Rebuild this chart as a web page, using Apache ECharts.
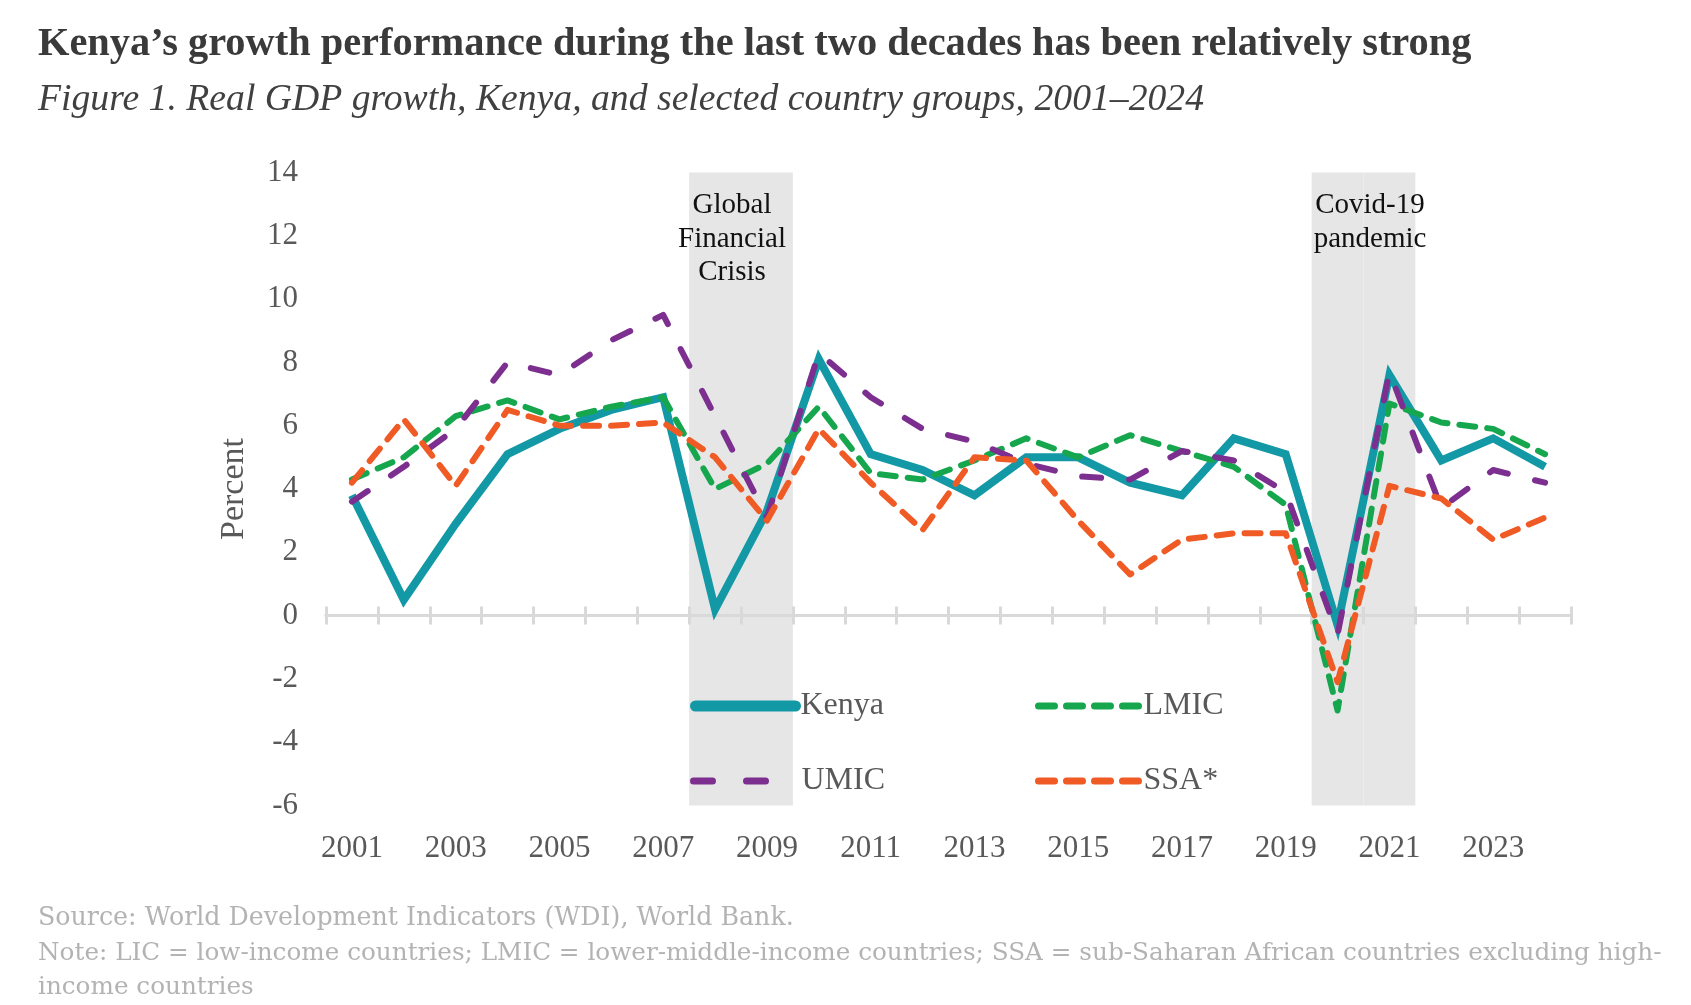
<!DOCTYPE html>
<html>
<head>
<meta charset="utf-8">
<script src="https://cdn.jsdelivr.net/npm/echarts@6/dist/echarts.min.js"></script>
<style>
  html, body { margin: 0; padding: 0; background: #fff; }
  #chart { width: 1691px; height: 1005px; }
</style>
</head>
<body>
<div id="chart"></div>
<script>
var years = ['2001', '2002', '2003', '2004', '2005', '2006', '2007', '2008', '2009', '2010', '2011', '2012',
  '2013', '2014', '2015', '2016', '2017', '2018', '2019', '2020', '2021', '2022', '2023', '2024'];
var kenya = [3.8, 0.5, 2.9, 5.1, 5.9, 6.5, 6.9, 0.2, 3.3, 8.1, 5.1, 4.6, 3.8, 5.0, 5.0, 4.2, 3.8, 5.6, 5.1, -0.3, 7.6, 4.9, 5.6, 4.7];
var lmic = [4.3, 5.0, 6.3, 6.8, 6.2, 6.6, 6.9, 4.0, 4.8, 6.6, 4.5, 4.3, 4.9, 5.6, 5.0, 5.7, 5.2, 4.7, 3.5, -3.0, 6.7, 6.1, 5.9, 5.1];
var umic = [3.6, 4.7, 5.9, 8.0, 7.6, 8.7, 9.5, 6.3, 3.1, 8.3, 6.9, 5.9, 5.5, 4.8, 4.4, 4.3, 5.2, 4.9, 3.9, -0.6, 7.7, 3.4, 4.6, 4.2];
var ssa = [4.2, 6.2, 4.1, 6.5, 6.0, 6.0, 6.1, 5.0, 3.0, 5.9, 4.2, 2.7, 5.0, 4.9, 3.0, 1.3, 2.4, 2.6, 2.6, -2.1, 4.1, 3.7, 2.4, 3.1];
// shaded periods (GFC, Covid-19)
var shadedYears = ['2008', '2009', '2020', '2021'];
var yMin = -6, yMax = 14;

var shadeUp = years.map(function (y) { return shadedYears.indexOf(y) >= 0 ? yMax : null; });
var shadeDown = years.map(function (y) { return shadedYears.indexOf(y) >= 0 ? yMin : null; });

var serif = '"Liberation Serif", "Times New Roman", serif';
var gray = '#595959';
var axisGray = '#d9d9d9';
var shortDash = [16, 12];
var longDash = [19, 28];

var chart = echarts.init(document.getElementById('chart'));
var legendText = { color: gray, fontSize: 32, fontFamily: serif };

function legendItem(name, left, top, width, lineStyle) {
  return {
    data: [name], left: left, top: top, padding: 0,
    itemWidth: width, itemHeight: 14, selectedMode: false,
    textStyle: legendText,
    itemStyle: { opacity: 0, borderWidth: 0 },
    lineStyle: lineStyle
  };
}

// axis line + ticks crossing it, drawn at y = 0
function zeroAxis(position) {
  return {
    type: 'category',
    data: years,
    position: position,
    boundaryGap: true,
    axisLine: { onZero: true, onZeroAxisIndex: 0, lineStyle: { color: axisGray, width: 3 } },
    axisTick: { show: true, interval: 0, length: 9, lineStyle: { color: axisGray, width: 3 } },
    axisLabel: { show: false },
    splitLine: { show: false }
  };
}

var option = {
  animation: false,
  backgroundColor: '#fff',
  grid: { left: 326, right: 120, top: 172.5, bottom: 199.5, outerBoundsMode: 'none' },
  xAxis: [
    {
      type: 'category',
      data: years,
      position: 'bottom',
      boundaryGap: true,
      axisLine: { show: false, onZero: false },
      axisTick: { show: false },
      axisLabel: { interval: 1, margin: 28, color: gray, fontSize: 31, fontFamily: serif },
      splitLine: { show: false }
    },
    zeroAxis('bottom'),
    zeroAxis('top')
  ],
  yAxis: {
    type: 'value',
    min: yMin,
    max: yMax,
    interval: 2,
    axisLine: { show: false },
    axisTick: { show: false },
    splitLine: { show: false },
    axisLabel: { color: gray, fontSize: 31, fontFamily: serif, margin: 28 },
    name: 'Percent',
    nameLocation: 'middle',
    nameRotate: 90,
    nameGap: 75,
    nameTextStyle: { color: gray, fontSize: 34, fontFamily: serif }
  },
  legend: [
    legendItem('Kenya', 690, 690, 100, { width: 11, cap: 'round' }),
    legendItem('LMIC', 1035, 690, 100, { width: 7, type: shortDash, cap: 'round' }),
    legendItem('UMIC', 690, 765, 103, { width: 7, type: [19, 34], cap: 'round' }),
    legendItem('SSA*', 1035, 765, 100, { width: 7, type: shortDash, cap: 'round' })
  ],
  series: [
    {
      type: 'bar', stack: 'shade', data: shadeUp, barWidth: '100%', silent: true, z: -1,
      itemStyle: { color: '#e6e6e6' }
    },
    {
      type: 'bar', stack: 'shade', data: shadeDown, barWidth: '100%', silent: true, z: -1,
      itemStyle: { color: '#e6e6e6' }
    },
    {
      name: 'Kenya', type: 'line', data: kenya, symbol: 'none',
      lineStyle: { color: '#1399a6', width: 8, join: 'miter' },
      itemStyle: { color: '#1399a6' }
    },
    {
      name: 'LMIC', type: 'line', data: lmic, symbol: 'none',
      lineStyle: { color: '#16a74e', width: 6, type: shortDash, cap: 'round', join: 'round' },
      itemStyle: { color: '#16a74e' }
    },
    {
      name: 'UMIC', type: 'line', data: umic, symbol: 'none',
      lineStyle: { color: '#7c2f8f', width: 6, type: longDash, cap: 'round', join: 'round' },
      itemStyle: { color: '#7c2f8f' }
    },
    {
      name: 'SSA*', type: 'line', data: ssa, symbol: 'none',
      lineStyle: { color: '#f05a24', width: 6, type: shortDash, cap: 'round', join: 'round' },
      itemStyle: { color: '#f05a24' }
    }
  ],
  graphic: [
    {
      type: 'text', x: 38, y: 45,
      style: { text: 'Kenya\u2019s growth performance during the last two decades has been relatively strong',
        font: 'bold 40.4px ' + serif, fill: '#3a3a3a', verticalAlign: 'middle' }
    },
    {
      type: 'text', x: 38, y: 100,
      style: { text: 'Figure 1. Real GDP growth, Kenya, and selected country groups, 2001\u20132024',
        font: 'italic 37.7px ' + serif, fill: '#404040', verticalAlign: 'middle' }
    },
    {
      type: 'text', x: 732, y: 189,
      style: { text: 'Global\nFinancial\nCrisis', font: '29px ' + serif, lineHeight: 33.5,
        fill: '#111', align: 'center', verticalAlign: 'top' }
    },
    {
      type: 'text', x: 1370, y: 189,
      style: { text: 'Covid-19\npandemic', font: '29px ' + serif, lineHeight: 33.5,
        fill: '#111', align: 'center', verticalAlign: 'top' }
    },
    {
      type: 'text', x: 38, y: 918,
      style: { text: 'Source: World Development Indicators (WDI), World Bank.',
        font: '25.3px "DejaVu Serif", serif', fill: '#b3b3b3', verticalAlign: 'middle' }
    },
    {
      type: 'text', x: 38, y: 954,
      style: { text: 'Note: LIC = low-income countries; LMIC = lower-middle-income countries; SSA = sub-Saharan African countries excluding high-',
        font: '24.7px "DejaVu Serif", serif', fill: '#b3b3b3', verticalAlign: 'middle' }
    },
    {
      type: 'text', x: 38, y: 988,
      style: { text: 'income countries',
        font: '24.7px "DejaVu Serif", serif', fill: '#b3b3b3', verticalAlign: 'middle' }
    }
  ]
};
chart.setOption(option);
</script>
</body>
</html>
